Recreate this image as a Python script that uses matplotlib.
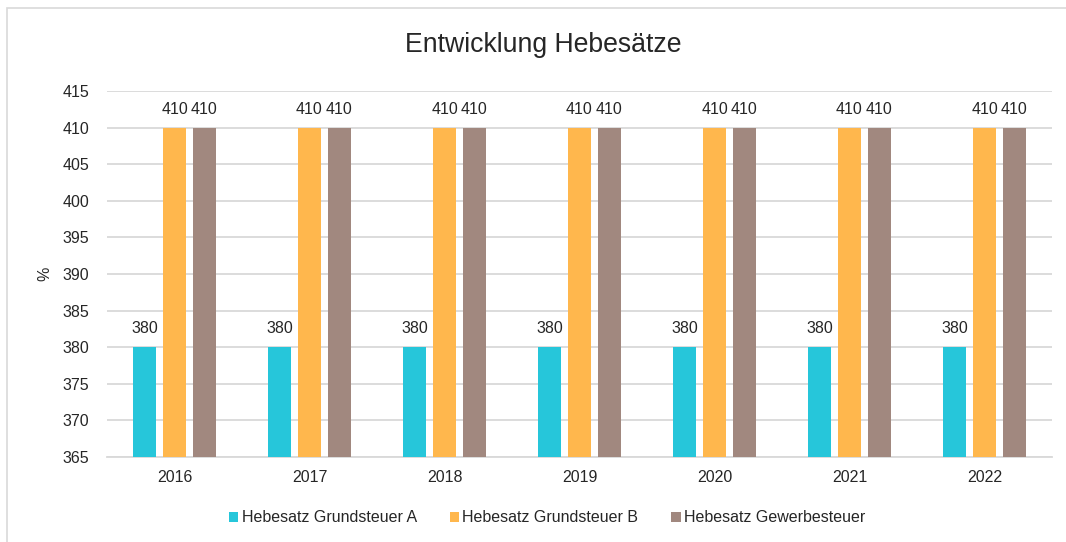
import matplotlib
matplotlib.use("Agg")
import matplotlib.pyplot as plt
import numpy as np
from matplotlib.patches import Rectangle

plt.rcParams['font.family'] = ['Liberation Sans', 'DejaVu Sans']

years = ["2016", "2017", "2018", "2019", "2020", "2021", "2022"]
series_names = ["Hebesatz Grundsteuer A", "Hebesatz Grundsteuer B", "Hebesatz Gewerbesteuer"]
grundsteuer_a = [380, 380, 380, 380, 380, 380, 380]
grundsteuer_b = [410, 410, 410, 410, 410, 410, 410]
gewerbesteuer = [410, 410, 410, 410, 410, 410, 410]
colors = ["#26C6DA", "#FFB74D", "#A1887F"]
title = "Entwicklung Hebesätze"
ylabel = "%"

fs = 11.5
fig = plt.figure(figsize=(10.66, 5.42), dpi=100)
fig.patch.set_facecolor("white")
# chart frame
fig.patches.append(Rectangle((7/1066, -0.1), 1.2, 0.985 + 0.1, transform=fig.transFigure,
                             fill=False, edgecolor="#d9d9d9", linewidth=1.2))

ax = fig.add_axes([107/1066, 1 - 457/542, (1052 - 107)/1066, (457 - 91)/542])
x = np.arange(len(years))
width = 0.17
offset = 0.222
data = [grundsteuer_a, grundsteuer_b, gewerbesteuer]
ymin = 365
for i, (vals, name, c) in enumerate(zip(data, series_names, colors)):
    pos = x + (i - 1) * offset
    vals = np.array(vals)
    ax.bar(pos, vals - ymin, width, bottom=ymin, color=c, label=name, zorder=3)
    for p, v in zip(pos, vals):
        ax.text(p, v + 1.5, f"{v}", ha="center", va="bottom", fontsize=fs, color="#262626")

ax.set_ylim(365, 415)
ax.set_xlim(-0.5, len(years) - 0.5)
ax.set_yticks(np.arange(365, 416, 5))
ax.set_xticks(x)
ax.set_xticklabels(years)
ax.yaxis.grid(True, color="#d9d9d9", linewidth=1.3, zorder=0)
ax.set_axisbelow(True)
for s in ["top", "right", "left"]:
    ax.spines[s].set_visible(False)
ax.spines["bottom"].set_color("#d9d9d9")
ax.spines["bottom"].set_linewidth(1.3)
ax.tick_params(axis="both", length=0, labelsize=fs, labelcolor="#262626")
ax.tick_params(axis="x", pad=9)
ax.tick_params(axis="y", pad=13)
ax.set_ylabel(ylabel, fontsize=fs, color="#262626", labelpad=7)
ax.set_facecolor("white")

fig.text(543/1066, 1 - 45/542, title, ha="center", va="center", fontsize=19.2, color="#262626")

leg = fig.legend(loc="center", bbox_to_anchor=(547/1066, 1 - 518/542), ncol=3, frameon=False,
                 fontsize=fs, handlelength=0.6, handleheight=0.6, handletextpad=0.2,
                 columnspacing=2.05)
for t in leg.get_texts():
    t.set_color("#262626")

fig.savefig("out.png", dpi=100, facecolor="white")
